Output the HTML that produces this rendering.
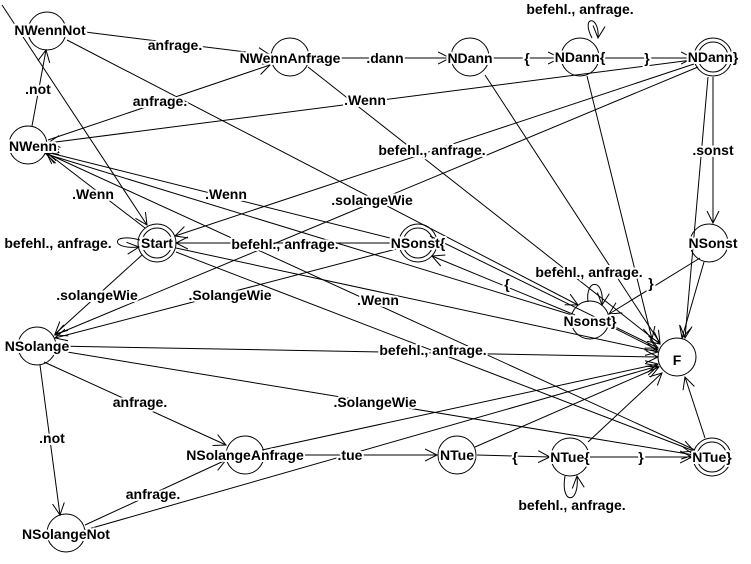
<!DOCTYPE html>
<html><head><style>
body{margin:0;background:#fff}
svg{display:block}
text{font-family:"Liberation Sans",sans-serif;font-size:14px;font-weight:bold;fill:#000;paint-order:stroke;stroke:#fff;stroke-width:4px;stroke-linejoin:round}
.n{stroke-width:2px;text-anchor:middle;dominant-baseline:central}
line,path{stroke:#000;stroke-width:1;fill:none}
circle{stroke:#000;stroke-width:1;fill:none}
</style></head><body>
<svg width="751" height="564" viewBox="0 0 751 564">
<defs><marker id="a" markerWidth="14" markerHeight="14" refX="12" refY="7" orient="auto" markerUnits="userSpaceOnUse"><path d="M0,1 L12,7 L0,13"/></marker></defs>
<g marker-end="url(#a)">
<line x1="85" y1="32" x2="270" y2="55"/>
<line x1="335" y1="58" x2="450" y2="58"/>
<line x1="490" y1="58" x2="560" y2="58"/>
<line x1="600" y1="58" x2="693" y2="58"/>
<line x1="692" y1="60" x2="48" y2="143"/>
<line x1="48" y1="140" x2="270" y2="65"/>
<line x1="32" y1="126" x2="46" y2="50"/>
<line x1="694" y1="64" x2="175" y2="236"/>
<line x1="698" y1="67" x2="55" y2="335"/>
<line x1="713" y1="77" x2="713" y2="223"/>
<line x1="67" y1="40" x2="578" y2="305"/>
<line x1="2" y1="5" x2="147" y2="225"/>
<line x1="308" y1="67" x2="660" y2="344"/>
<line x1="485" y1="75" x2="660" y2="343"/>
<line x1="587" y1="76" x2="652" y2="339"/>
<line x1="708" y1="77" x2="685" y2="338"/>
<line x1="145" y1="228" x2="46" y2="152"/>
<line x1="398" y1="240" x2="46" y2="152"/>
<line x1="695" y1="450" x2="46" y2="153"/>
<line x1="572" y1="315" x2="46" y2="154"/>
<line x1="398" y1="243" x2="176" y2="243"/>
<line x1="400" y1="248" x2="55" y2="338"/>
<line x1="142" y1="255" x2="55" y2="334"/>
<line x1="575" y1="315" x2="432" y2="256"/>
<line x1="700" y1="258" x2="609" y2="314"/>
<line x1="176" y1="248" x2="658" y2="352"/>
<line x1="176" y1="252" x2="694" y2="451"/>
<line x1="608" y1="325" x2="658" y2="350"/>
<line x1="430" y1="236" x2="658" y2="348"/>
<line x1="55" y1="346" x2="658" y2="357"/>
<line x1="55" y1="350" x2="694" y2="455"/>
<line x1="44" y1="362" x2="226" y2="445"/>
<line x1="40" y1="365" x2="60" y2="515"/>
<line x1="85" y1="525" x2="226" y2="460"/>
<line x1="265" y1="455" x2="437" y2="455"/>
<line x1="477" y1="455" x2="550" y2="457"/>
<line x1="590" y1="457" x2="692" y2="457"/>
<line x1="262" y1="450" x2="658" y2="364"/>
<line x1="85" y1="530" x2="658" y2="366"/>
<line x1="475" y1="447" x2="659" y2="367"/>
<line x1="588" y1="442" x2="662" y2="373"/>
<line x1="705" y1="438" x2="685" y2="377"/>
<line x1="704" y1="262" x2="682" y2="338"/>
<path d="M592,38 C580,15 600,15 598,38"/>
<path d="M140,240 C110,232 110,250 139,247"/>
<path d="M588,302 C585,278 605,278 602,305"/>
<path d="M565,476 C560,505 580,505 577,476"/>
</g>
<circle cx="47" cy="31" r="19"/>
<circle cx="290" cy="57" r="19"/>
<circle cx="470" cy="57" r="19"/>
<circle cx="580" cy="57" r="19"/>
<circle cx="713" cy="57" r="19"/><circle cx="713" cy="57" r="15"/>
<circle cx="28" cy="145" r="19"/>
<circle cx="157" cy="243" r="19"/><circle cx="157" cy="243" r="15"/>
<circle cx="418" cy="243" r="19"/><circle cx="418" cy="243" r="15"/>
<circle cx="709" cy="243" r="19"/>
<circle cx="590" cy="320" r="19"/>
<circle cx="677" cy="357" r="19"/>
<circle cx="37" cy="346" r="19"/>
<circle cx="245" cy="455" r="19"/>
<circle cx="457" cy="455" r="19"/>
<circle cx="570" cy="457" r="19"/>
<circle cx="712" cy="457" r="19"/><circle cx="712" cy="457" r="15"/>
<circle cx="66" cy="533" r="19"/>
<g class="n">
<text x="50" y="30">NWennNot</text>
<text x="290" y="58">NWennAnfrage</text>
<text x="470" y="58">NDann</text>
<text x="580" y="57">NDann{</text>
<text x="713" y="57">NDann}</text>
<text x="33" y="146">NWenn</text>
<text x="157" y="243">Start</text>
<text x="418" y="243">NSonst{</text>
<text x="713" y="243">NSonst</text>
<text x="590" y="321">Nsonst}</text>
<text x="677" y="360">F</text>
<text x="37" y="346">NSolange</text>
<text x="245" y="455">NSolangeAnfrage</text>
<text x="457" y="455">NTue</text>
<text x="570" y="457">NTue{</text>
<text x="712" y="457">NTue}</text>
<text x="66" y="534">NSolangeNot</text>
<text x="175" y="45">anfrage.</text>
<text x="385" y="58">.dann</text>
<text x="527" y="58">{</text>
<text x="580" y="9">befehl., anfrage.</text>
<text x="647" y="58">}</text>
<text x="365" y="100">.Wenn</text>
<text x="160" y="101">anfrage.</text>
<text x="38" y="89">.not</text>
<text x="432" y="150">befehl., anfrage.</text>
<text x="372" y="200">.solangeWie</text>
<text x="713" y="150">.sonst</text>
<text x="93" y="194">.Wenn</text>
<text x="226" y="194">.Wenn</text>
<text x="378" y="300">.Wenn</text>
<text x="285" y="244">befehl., anfrage.</text>
<text x="230" y="295">.SolangeWie</text>
<text x="58" y="243">befehl., anfrage.</text>
<text x="97" y="295">.solangeWie</text>
<text x="507" y="284">{</text>
<text x="651" y="283">}</text>
<text x="589" y="272">befehl., anfrage.</text>
<text x="433" y="350">befehl., anfrage.</text>
<text x="375" y="402">.SolangeWie</text>
<text x="140" y="402">anfrage.</text>
<text x="52" y="438">.not</text>
<text x="153" y="494">anfrage.</text>
<text x="350" y="455">.tue</text>
<text x="515" y="457">{</text>
<text x="641" y="457">}</text>
<text x="572" y="505">befehl., anfrage.</text>
</g>
</svg>
</body></html>
